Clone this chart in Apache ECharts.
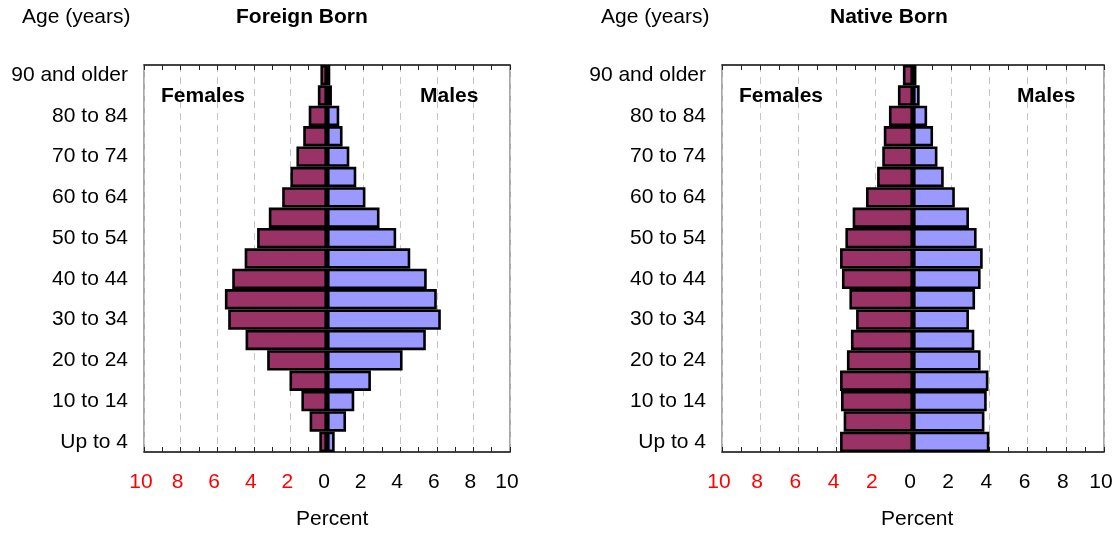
<!DOCTYPE html>
<html>
<head>
<meta charset="utf-8">
<script src="https://cdn.jsdelivr.net/npm/echarts@6/dist/echarts.min.js"></script>
<style>
html,body{margin:0;padding:0;background:#fff;}
#chart{width:1119px;height:534px;}
</style>
</head>
<body>
<div id="chart"></div>
<script>
// Age groups, youngest first
const ageGroups = ['Up to 4','5 to 9','10 to 14','15 to 19','20 to 24','25 to 29','30 to 34','35 to 39','40 to 44','45 to 49','50 to 54','55 to 59','60 to 64','65 to 69','70 to 74','75 to 79','80 to 84','85 to 89','90 and older'];
// Percent of population, Foreign Born
const foreignFemales = [0.42,0.95,1.4,2.05,3.27,4.45,5.4,5.58,5.18,4.5,3.82,3.18,2.45,2.0,1.67,1.3,1.0,0.5,0.36];
const foreignMales   = [0.42,1.04,1.49,2.4,4.13,5.4,6.22,6.0,5.45,4.55,3.78,2.87,2.1,1.6,1.22,0.85,0.67,0.27,0.18];
// Percent of population, Native Born
const nativeFemales = [3.82,3.63,3.77,3.82,3.46,3.25,2.98,3.33,3.72,3.82,3.54,3.16,2.46,1.88,1.61,1.53,1.26,0.79,0.53];
const nativeMales   = [4.0,3.74,3.86,3.95,3.54,3.21,2.93,3.25,3.54,3.65,3.33,2.93,2.19,1.61,1.28,1.05,0.74,0.35,0.18];
const xTicks = [-10,-8,-6,-4,-2,0,2,4,6,8,10];

const FONT = '"Liberation Sans", Arial, sans-serif';
const femaleColor = '#993366';
const maleColor = '#9999FF';

const chart = echarts.init(document.getElementById('chart'));

const grids = [
  {left:144, right:609, top:65, bottom:82, show:true, borderColor:'#8c8c8c', borderWidth:1.5, backgroundColor:'#fff'},
  {left:722, right:15, top:65, bottom:82, show:true, borderColor:'#8c8c8c', borderWidth:1.5, backgroundColor:'#fff'}
];

function bottomX(gi){
  return {
    type:'value', gridIndex:gi, position:'bottom',
    min:xTicks[0], max:xTicks[xTicks.length-1], interval:2,
    axisLine:{show:true, lineStyle:{color:'#222', width:1.5}},
    axisTick:{show:true, inside:true, length:5, lineStyle:{color:'#222', width:1}},
    minorTick:{show:true, splitNumber:2, length:5, lineStyle:{color:'#222', width:1}},
    splitLine:{show:true, lineStyle:{color:'#c4c4c4', width:1, type:[7,5]}},
    axisLabel:{
      show:true, margin:20, fontSize:21, fontFamily:FONT,
      padding:[0,6,0,0],
      formatter: v => String(Math.abs(v)),
      color: v => (Number(v) < 0 ? '#FF0000' : '#000000')
    }
  };
}
function topX(gi){
  return {
    type:'value', gridIndex:gi, position:'top',
    min:xTicks[0], max:xTicks[xTicks.length-1], interval:2,
    axisLine:{show:true, lineStyle:{color:'#222', width:1.5}},
    axisTick:{show:true, inside:true, length:5, lineStyle:{color:'#222', width:1}},
    minorTick:{show:true, splitNumber:2, length:5, lineStyle:{color:'#222', width:1}},
    splitLine:{show:false},
    axisLabel:{show:false}
  };
}
function yAx(gi){
  return {
    type:'category', gridIndex:gi, data:ageGroups,
    axisLine:{show:false},
    axisTick:{show:false},
    splitLine:{show:false},
    axisLabel:{show:true, interval:1, margin:16, fontSize:21, fontFamily:FONT, color:'#000'}
  };
}

function barSeries(name, vals, neg, xi, yi, color, stack){
  return {
    name:name, type:'bar', stack:stack,
    xAxisIndex:xi, yAxisIndex:yi,
    barCategoryGap:'0%',
    data: vals.map(v => neg ? -v : v),
    itemStyle:{color:color, borderColor:'#000', borderWidth:2.6},
    emphasis:{disabled:true},
    z:3
  };
}

const option = {
  animation:false,
  backgroundColor:'#fff',
  grid: grids,
  xAxis: [bottomX(0), topX(0), bottomX(1), topX(1)],
  yAxis: [yAx(0), yAx(1)],
  series: [
    barSeries('Foreign Females', foreignFemales, true, 0, 0, femaleColor, 'fb'),
    barSeries('Foreign Males', foreignMales, false, 0, 0, maleColor, 'fb'),
    barSeries('Native Females', nativeFemales, true, 2, 1, femaleColor, 'nb'),
    barSeries('Native Males', nativeMales, false, 2, 1, maleColor, 'nb')
  ],
  graphic: [
    {type:'text', left:22, top:7, style:{text:'Age (years)', font:'21px "Liberation Sans", Arial, sans-serif', fill:'#000'}},
    {type:'text', left:236, top:7, style:{text:'Foreign Born', font:'bold 21px "Liberation Sans", Arial, sans-serif', fill:'#000'}},
    {type:'text', left:601, top:7, style:{text:'Age (years)', font:'21px "Liberation Sans", Arial, sans-serif', fill:'#000'}},
    {type:'text', left:830, top:7, style:{text:'Native Born', font:'bold 21px "Liberation Sans", Arial, sans-serif', fill:'#000'}},
    {type:'text', left:161, top:86, z:10, style:{text:'Females', font:'bold 21px "Liberation Sans", Arial, sans-serif', fill:'#000'}},
    {type:'text', left:420, top:86, z:10, style:{text:'Males', font:'bold 21px "Liberation Sans", Arial, sans-serif', fill:'#000'}},
    {type:'text', left:739, top:86, z:10, style:{text:'Females', font:'bold 21px "Liberation Sans", Arial, sans-serif', fill:'#000'}},
    {type:'text', left:1017, top:86, z:10, style:{text:'Males', font:'bold 21px "Liberation Sans", Arial, sans-serif', fill:'#000'}},
    {type:'text', left:296, top:509, style:{text:'Percent', font:'21px "Liberation Sans", Arial, sans-serif', fill:'#000'}},
    {type:'text', left:881, top:509, style:{text:'Percent', font:'21px "Liberation Sans", Arial, sans-serif', fill:'#000'}}
  ]
};
chart.setOption(option);
</script>
</body>
</html>
